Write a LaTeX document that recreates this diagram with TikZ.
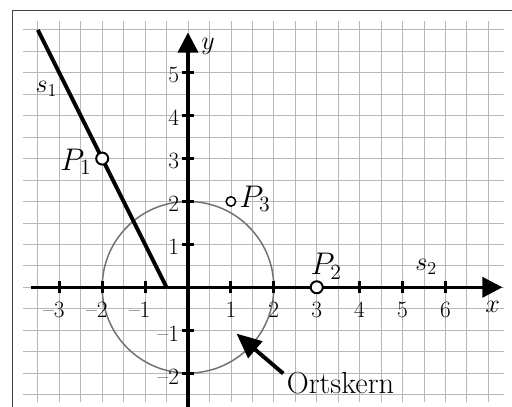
\documentclass[tikz,border=0pt]{standalone}
\usetikzlibrary{arrows.meta}
\begin{document}
\begin{tikzpicture}[x=1cm,y=1cm,
  gridline/.style={black!28, line width=0.5pt},
  axisline/.style={line width=2.2pt, -{Triangle[length=0.47cm,width=0.47cm]}},
  tickmark/.style={line width=2pt},
  pointmark/.style={circle, draw=black, fill=white, line width=1.3pt, inner sep=0pt, minimum size=0.28cm},
  lbl/.style={font=\fontsize{17.28}{20}\selectfont, inner sep=0pt},
  plbl/.style={font=\fontsize{20.74}{24}\selectfont, inner sep=0pt},
  num/.style={font=\fontsize{15.5}{18}\selectfont, inner sep=0pt}]
\useasboundingbox (-4.382,-2.777) rectangle (7.552,6.696);
% grid
\draw[gridline, step=0.5] (-3.85,-2.68) grid (7.37,6.21);
% frame
\draw[line width=0.7pt, black!75] (-4.10,-2.9) -- (-4.10,6.46) -- (7.7,6.46);
% circle
\draw[black!55, line width=1pt] (0,0) circle (2);
% axes
\coordinate (xs) at (-3.66,0);
\coordinate (xe) at (7.33,0);
\coordinate (ys) at (0,-2.85);
\coordinate (ye) at (0,5.94);
\draw[axisline] (xs) -- (xe);
\draw[axisline] (ys) -- (ye);
\foreach \x in {1,2,3,4,5,6} {
  \draw[tickmark] (\x,-0.14) -- (\x,0.14);
  \node[num, anchor=north] (xl\x) at (\x,-0.34) {\x};
}
\foreach \x in {1,2,3} {
  \draw[tickmark] (-\x,-0.14) -- (-\x,0.14);
  \node[num, anchor=north] (xm\x) at (-\x,-0.34) {\llap{\textendash}\x};
}
\foreach \y in {1,2,3,4,5} {
  \draw[tickmark] (-0.13,\y) -- (0.15,\y);
  \node[num, anchor=east] (yl\y) at (-0.2,\y-0.05) {\y};
}
\foreach \y in {1,2} {
  \draw[tickmark] (-0.13,-\y) -- (0.15,-\y);
  \node[num, anchor=east] (ym\y) at (-0.2,-\y-0.08) {\textendash\y};
}
\node[lbl] (xlab) at (7.1,-0.46) {$x$};
\node[lbl] (ylab) at (0.47,5.62) {$y$};
% line s1
\coordinate (s1a) at (-3.5,6);
\coordinate (s1b) at (-0.5,0);
\draw[line width=2.6pt] (s1a) -- (s1b);
\node[lbl] (s1lab) at (-3.3,4.62) {$s_1$};
\node[lbl] (s2lab) at (5.55,0.47) {$s_2$};
% points
\node[pointmark] (P1) at (-2,3) {};
\node[pointmark] (P2) at (3,0) {};
\node[pointmark, line width=1pt, minimum size=0.22cm] (P3) at (1,2) {};
\node[plbl, anchor=base east] (P1lab) at (-2.24,2.73) {$P_1$};
\node[plbl, anchor=base west] (P2lab) at (2.85,0.29) {$P_2$};
\node[plbl, anchor=base west] (P3lab) at (1.19,1.87) {$P_3$};
% Ortskern
\node[font=\fontsize{20.2}{24}\selectfont, inner sep=0pt] (ok) at (3.555,-2.24) {Ortskern};
\coordinate (oktail) at (2.22,-2.01);
\coordinate (oktip) at (1.13,-1.08);
\draw[line width=2.6pt, -{Triangle[length=0.58cm,width=0.5cm]}] (oktail) -- (oktip);
\end{tikzpicture}
\end{document}
